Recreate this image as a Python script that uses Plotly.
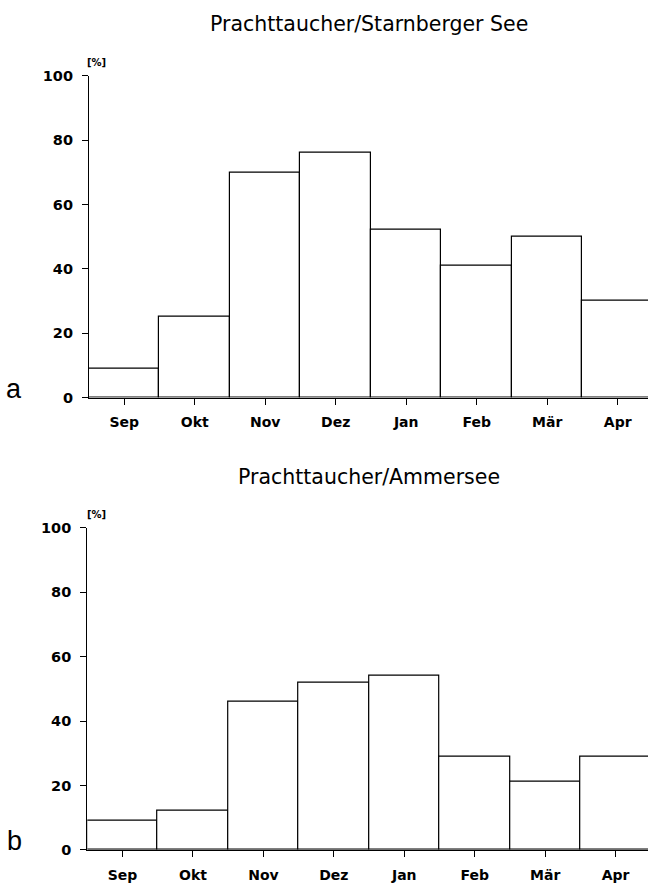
import plotly.graph_objects as go

# Monthly share of observations [%], September to April
months = ["Sep", "Okt", "Nov", "Dez", "Jan", "Feb", "Mär", "Apr"]
starnberger_see = [9, 25, 70, 76, 52, 41, 50, 30]
ammersee = [9, 12, 46, 52, 54, 29, 21, 29]

titles = ["Prachttaucher/Starnberger See", "Prachttaucher/Ammersee"]
panel_letters = ["a", "b"]
y_ticks = [0, 20, 40, 60, 80, 100]

W, H = 648, 889
FONT = "DejaVu Sans"

fig = go.Figure()

bar_style = dict(
    width=1.0,
    marker=dict(color="white", line=dict(color="black", width=1.2)),
    showlegend=False,
    hoverinfo="x+y",
)
fig.add_trace(go.Bar(x=list(range(len(months))), y=starnberger_see,
                     xaxis="x", yaxis="y", **bar_style))
fig.add_trace(go.Bar(x=list(range(len(months))), y=ammersee,
                     xaxis="x2", yaxis="y2", **bar_style))


def px_x(v):
    return v / W


def px_y(v):
    return 1 - v / H


xcommon = dict(
    tickmode="array",
    tickvals=list(range(len(months))),
    ticktext=months,
    showline=True, linecolor="black", linewidth=1.2,
    ticks="outside", ticklen=6, tickwidth=1.2, tickcolor="black",
    showgrid=False, zeroline=False,
    tickfont=dict(family=FONT, size=14, color="black", weight="bold"),
    ticklabelstandoff=6,
    fixedrange=True,
)
ycommon = dict(
    range=[0, 100],
    tickmode="array", tickvals=y_ticks,
    showline=True, linecolor="black", linewidth=1.2,
    ticks="outside", ticklen=6, tickwidth=1.2, tickcolor="black",
    showgrid=False, zeroline=False,
    tickfont=dict(family=FONT, size=14.5, color="black", weight="bold"),
    ticklabelstandoff=6,
    fixedrange=True,
)

fig.update_layout(
    width=W, height=H,
    margin=dict(l=0, r=0, t=0, b=0),
    paper_bgcolor="white", plot_bgcolor="white",
    bargap=0,
    xaxis=dict(domain=[px_x(89), 1.0], range=[-0.5, 7.43], anchor="y", **xcommon),
    yaxis=dict(domain=[px_y(396.7), px_y(69)], anchor="x", **ycommon),
    xaxis2=dict(domain=[px_x(87.3), 1.0], range=[-0.5, 7.46], anchor="y2", **xcommon),
    yaxis2=dict(domain=[px_y(857.3), px_y(529.3)], anchor="x2", **ycommon),
)

annotations = []
# panel titles, centred over the plot area
for title, yc in zip(titles, [16, 478]):
    annotations.append(dict(
        text=title, xref="paper", yref="paper",
        x=px_x(369), y=px_y(yc), xanchor="center", yanchor="middle",
        showarrow=False, font=dict(family=FONT, size=20.5, color="black"),
    ))
# unit label above each y axis
for yc in [55, 516]:
    annotations.append(dict(
        text="[%]", xref="paper", yref="paper",
        x=px_x(96), y=px_y(yc), xanchor="center", yanchor="middle",
        showarrow=False, font=dict(family=FONT, size=10, color="black", weight="bold"),
    ))
# panel letters
for letter, yc in zip(panel_letters, [388, 848]):
    annotations.append(dict(
        text=letter, xref="paper", yref="paper",
        x=px_x(14), y=px_y(yc), xanchor="center", yanchor="middle",
        showarrow=False, font=dict(family="Liberation Sans", size=27, color="black"),
    ))
fig.update_layout(annotations=annotations)

fig.write_html("out.html")
